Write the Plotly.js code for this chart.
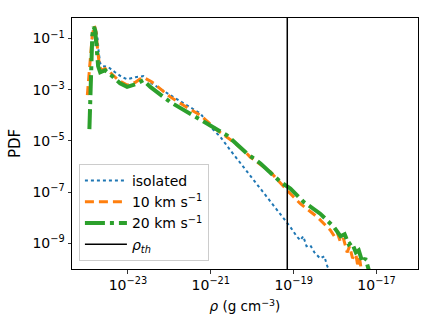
<!DOCTYPE html>
<html>
<head>
<meta charset="utf-8">
<script src="https://cdn.plot.ly/plotly-3.0.1.min.js"></script>
<style>html,body{margin:0;padding:0;background:#fff;}#chart{width:436px;height:327px;}</style>
</head>
<body>
<div id="chart"></div>
<script>
// log10 of density (g cm^-3) and log10 of PDF
const isoLogRho = [-23.89,-23.84,-23.79,-23.74,-23.71,-23.67,-23.60,-23.48,-23.31,-23.14,-23.02,-22.82,-22.63,-22.42,-21.98,-21.25,-21.01,-20.77,-20.53,-20.21,-19.97,-19.72,-19.40,-19.24,-19.08,-18.93,-18.84,-18.77,-18.69,-18.60,-18.50,-18.36,-18.26,-18.19,-18.11];
const isoLogPdf = [-1.26,-0.75,-0.54,-0.87,-1.46,-1.96,-2.08,-2.11,-2.32,-2.51,-2.59,-2.51,-2.47,-2.76,-3.21,-3.93,-4.45,-4.84,-5.36,-6.02,-6.54,-7.05,-7.71,-8.03,-8.36,-8.72,-8.88,-8.72,-9.11,-9.07,-9.35,-9.59,-9.50,-9.89,-10.13];

const v10LogRho = [-23.98,-23.91,-23.86,-23.81,-23.77,-23.73,-23.69,-23.645,-23.55,-23.43,-23.23,-23.02,-22.82,-22.68,-22.62,-22.42,-21.98,-21.66,-21.25,-20.85,-20.45,-20.13,-20.05,-19.56,-19.16,-18.84,-18.43,-18.11,-18.02,-17.95,-17.87,-17.80,-17.71,-17.65,-17.58,-17.50,-17.46,-17.41,-17.36];
const v10LogPdf = [-3.21,-1.65,-0.87,-0.50,-0.75,-1.46,-2.04,-2.24,-2.17,-2.32,-2.63,-2.82,-2.71,-2.55,-2.52,-2.70,-3.28,-3.61,-4.00,-4.58,-5.04,-5.49,-5.63,-6.21,-6.93,-7.45,-7.97,-8.49,-8.72,-8.57,-8.96,-8.80,-9.35,-9.11,-9.58,-9.42,-9.81,-9.58,-10.13];

const v20LogRho = [-23.93,-23.92,-23.90,-23.86,-23.83,-23.79,-23.75,-23.72,-23.67,-23.55,-23.38,-23.19,-23.02,-22.82,-22.63,-22.46,-21.98,-21.42,-21.17,-20.61,-20.13,-19.80,-19.32,-19.08,-18.76,-18.36,-18.03,-17.87,-17.77,-17.67,-17.60,-17.50,-17.43,-17.34,-17.27,-17.17];
const v20LogPdf = [-4.54,-3.80,-2.24,-0.87,-0.55,-0.68,-1.46,-2.08,-2.32,-2.24,-2.47,-2.75,-2.89,-2.79,-2.63,-2.89,-3.48,-4.00,-4.26,-4.78,-5.49,-5.88,-6.60,-6.86,-7.38,-7.84,-8.36,-8.72,-8.64,-9.04,-8.96,-9.35,-9.27,-9.74,-9.58,-10.13];

const rhoTh = 7e-20;
const xTickVals = [1e-23, 1e-21, 1e-19, 1e-17];
const xTickText = ['10<sup>−23</sup>','10<sup>−21</sup>','10<sup>−19</sup>','10<sup>−17</sup>'];
const yTickVals = [1e-9, 1e-7, 1e-5, 1e-3, 1e-1];
const yTickText = ['10<sup>−9</sup>','10<sup>−7</sup>','10<sup>−5</sup>','10<sup>−3</sup>','10<sup>−1</sup>'];

const p10 = a => a.map(v => Math.pow(10, v));

const traces = [
  {x: p10(isoLogRho), y: p10(isoLogPdf), mode: 'lines', name: 'isolated',
   line: {color: '#1f77b4', width: 2, dash: 'dot'}},
  {x: p10(v10LogRho), y: p10(v10LogPdf), mode: 'lines', name: '10 km s<sup>−1</sup>',
   line: {color: '#ff7f0e', width: 3, dash: '9px,5px'}},
  {x: p10(v20LogRho), y: p10(v20LogPdf), mode: 'lines', name: '20 km s<sup>−1</sup>',
   line: {color: '#2ca02c', width: 4, dash: '20px,5px,4px,5px'}},
  {x: [rhoTh, rhoTh], y: [1e-12, 10], mode: 'lines', name: '<i>ρ<sub>th</sub></i>',
   line: {color: '#000000', width: 1.5}}
];

const axisCommon = {
  type: 'log', showgrid: false, zeroline: false, showline: true, mirror: true,
  linecolor: '#000', linewidth: 1, ticks: 'outside', ticklen: 3.5, tickwidth: 0.8,
  tickcolor: '#000', tickfont: {family: 'DejaVu Sans', size: 14, color: '#000'}
};

const layout = {
  width: 436, height: 327,
  margin: {l: 72, r: 18, t: 18, b: 58},
  paper_bgcolor: '#fff', plot_bgcolor: '#fff',
  font: {family: 'DejaVu Sans', size: 13, color: '#000'},
  showlegend: true,
  xaxis: Object.assign({}, axisCommon, {
    range: [-24.35, -16], tickvals: xTickVals, ticktext: xTickText,
    title: {text: '<i>ρ</i> (g cm<sup>−3</sup>)', font: {family: 'DejaVu Sans', size: 13.5}, standoff: 9}
  }),
  yaxis: Object.assign({}, axisCommon, {
    range: [-10, -0.2], tickvals: yTickVals, ticktext: yTickText,
    title: {text: 'PDF', font: {family: 'DejaVu Sans', size: 15}, standoff: 8}
  }),
  legend: {
    x: 0.02, y: 0.032, xanchor: 'left', yanchor: 'bottom',
    bgcolor: 'rgba(255,255,255,0.8)', bordercolor: '#cccccc', borderwidth: 1,
    font: {family: 'DejaVu Sans', size: 14, color: '#000'}, itemwidth: 42
  }
};

Plotly.newPlot('chart', traces, layout, {staticPlot: true, displayModeBar: false});
</script>
</body>
</html>
